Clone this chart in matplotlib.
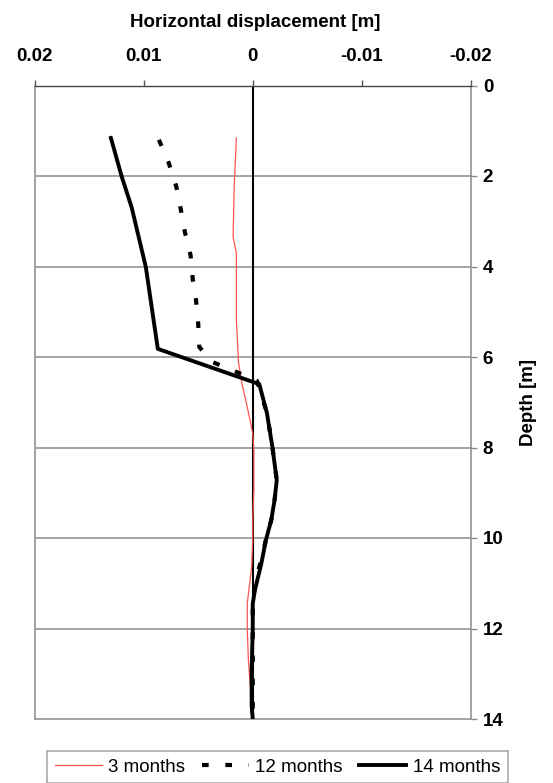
import matplotlib
matplotlib.use("Agg")
import matplotlib.pyplot as plt

plt.rcParams["font.family"] = ["Liberation Sans", "DejaVu Sans"]

# inclinometer readings: depth [m] and horizontal displacement [m]
DEPTH_3M = [1.16, 2.24, 3.35, 3.7, 5.18, 6.13, 6.57, 7.33, 7.7, 8.05, 8.94, 9.6,
            10.0, 10.64, 11.44, 12.03, 12.7, 13.36, 13.87]
DISP_3M = [0.0015, 0.0017, 0.0018, 0.0015, 0.0015, 0.0013, 0.0010, 0.0003, 0.0,
           -0.0001, -0.0001, 0.0, 0.0, 0.0001, 0.0005, 0.0005, 0.0004, 0.0002, 0.0002]

DEPTH_12M = [1.2, 1.71, 2.24, 2.73, 3.26, 3.75, 4.28, 4.74, 5.25, 5.78, 6.11, 6.33,
             6.53, 7.24, 7.99, 8.72, 9.16, 9.6, 10.05, 10.55, 11.0, 11.5, 12.0, 13.0, 14.0]
DISP_12M = [0.0086, 0.0077, 0.0070, 0.0066, 0.0062, 0.0057, 0.0055, 0.0052, 0.0050,
            0.0049, 0.0037, 0.0015, -0.0004, -0.0013, -0.0018, -0.0022, -0.0020,
            -0.0017, -0.0012, -0.0007, -0.0002, 0.0, 0.0, 0.0, 0.0]

DEPTH_14M = [1.16, 1.33, 2.02, 2.69, 4.01, 5.82, 6.6, 7.24, 7.99, 8.72, 9.16, 9.6,
             10.05, 10.55, 11.15, 11.45, 12.0, 12.9, 13.7, 14.0]
DISP_14M = [0.0130, 0.0128, 0.0120, 0.0111, 0.0098, 0.0087, -0.0006, -0.0013, -0.0018,
            -0.0022, -0.0020, -0.0017, -0.0012, -0.0008, -0.0002, 0.0, 0.0, 0.0001,
            0.0001, 0.0]

X_TICKS = [0.02, 0.01, 0.0, -0.01, -0.02]
X_TICK_LABELS = ["0.02", "0.01", "0", "-0.01", "-0.02"]
DEPTH_TICKS = [0, 2, 4, 6, 8, 10, 12, 14]

W, H = 553, 783
FS = 13.5
fig = plt.figure(figsize=(W / 100, H / 100), dpi=100)
ax = fig.add_axes([34.5 / W, 1 - 719 / H, (471 - 34.5) / W, (719 - 85.5) / H])

grey = "#8a8a8a"
for d in DEPTH_TICKS[1:-1]:
    ax.axhline(d, color=grey, lw=1.1, zorder=1)
ax.axvline(0, color="black", lw=1.5, zorder=2)

ax.plot(DISP_3M, DEPTH_3M, color="#ff5555", lw=0.9, label="3 months", zorder=3)
ax.plot(DISP_12M, DEPTH_12M, color="black", lw=3, linestyle=(0, (1.6, 4.0)),
        label="12 months", zorder=4)
ax.plot(DISP_14M, DEPTH_14M, color="black", lw=2.8, label="14 months", zorder=5)

ax.set_xlim(0.02, -0.02)
ax.set_ylim(14, 0)
ax.set_xticks(X_TICKS)
ax.set_xticklabels(X_TICK_LABELS, fontweight="bold", fontsize=FS)
ax.set_yticks(DEPTH_TICKS)
ax.set_yticklabels([str(d) for d in DEPTH_TICKS], fontweight="bold", fontsize=FS)

ax.xaxis.tick_top()
ax.yaxis.tick_right()
ax.xaxis.set_label_position("top")
ax.yaxis.set_label_position("right")
ax.tick_params(axis="x", direction="out", length=4, width=1, color="#555555", pad=11)
ax.tick_params(axis="y", direction="out", length=4.5, width=1, color=grey, pad=4)

for side in ["left", "right", "bottom"]:
    ax.spines[side].set_color(grey)
    ax.spines[side].set_linewidth(1.1)
ax.spines["top"].set_color("#444444")
ax.spines["top"].set_linewidth(1)

ax.set_xlabel("Horizontal displacement [m]", fontweight="bold", fontsize=FS)
ax.xaxis.set_label_coords(0.505, 1.092)
ax.set_ylabel("Depth [m]", fontweight="bold", fontsize=FS, labelpad=12)

leg = fig.legend(loc="upper center", bbox_to_anchor=(277.5 / W, 1 - 750.5 / H),
                 ncol=3, fontsize=FS, frameon=True, fancybox=False, borderaxespad=0,
                 handlelength=2.5, handletextpad=0.33, columnspacing=0.9,
                 borderpad=0.42)
leg.get_frame().set_edgecolor(grey)
leg.get_frame().set_linewidth(1.1)

fig.savefig("out.png", dpi=100)
